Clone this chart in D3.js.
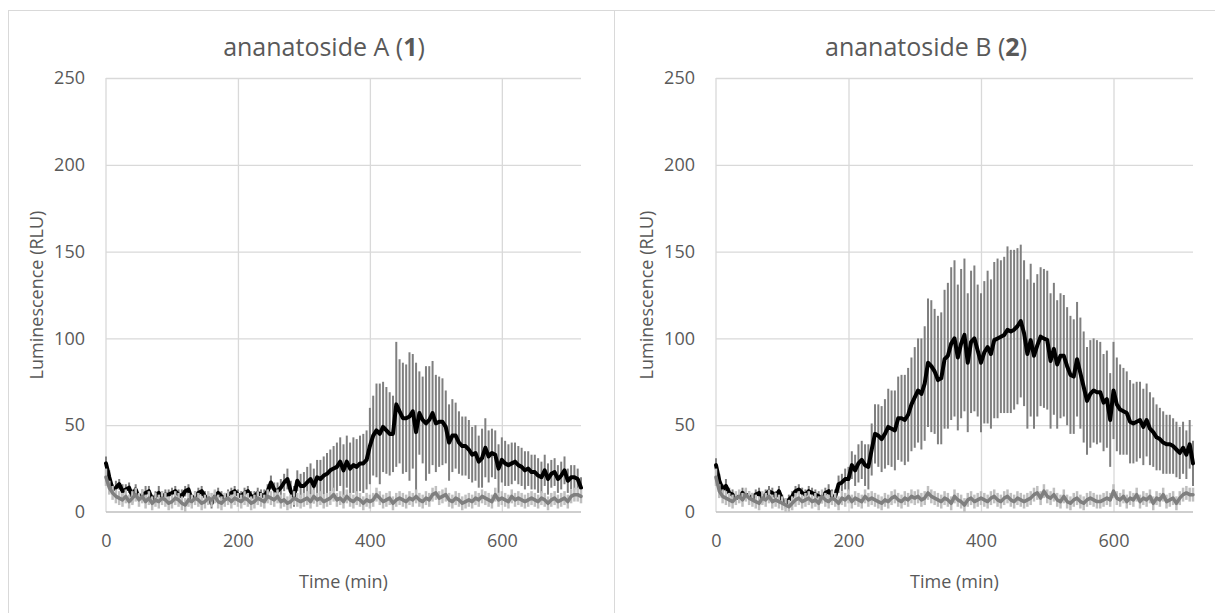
<!DOCTYPE html>
<html>
<head>
<meta charset="utf-8">
<script src="https://cdn.jsdelivr.net/npm/d3@7/dist/d3.min.js"></script>
<style>
  html, body { margin: 0; padding: 0; background: #ffffff; }
  svg { display: block; }
  text { font-family: "Open Sans", "Noto Sans", sans-serif; fill: #595959; }
</style>
</head>
<body>
<svg id="chart" width="1215" height="613"></svg>
<script>
// ---------------- DATA ----------------
const timeStepMin = 5;
const timeMax = 720;
const xTicks = [0, 200, 400, 600];
const yTicks = [0, 50, 100, 150, 200, 250];
const titleNames = ["ananatoside A (", "ananatoside B ("];
const titleNumbers = ["1", "2"];
const xAxisTitle = "Time (min)";
const yAxisTitle = "Luminescence (RLU)";

// ananatoside A (1) - treated (black) mean and error
const meanA = [
  28, 20, 13, 14, 16, 12, 13, 14, 9, 13,
  8, 10, 11, 12, 7, 9, 11, 9, 10, 10,
  11, 12, 10, 9, 12, 13, 7, 9, 11, 12,
  9, 8, 5, 9, 11, 9, 8, 10, 11, 12,
  10, 9, 11, 12, 9, 9, 11, 10, 9, 12,
  17, 13, 12, 14, 17, 19, 12, 9, 18, 15,
  15, 17, 19, 15, 20, 19, 21, 22, 24, 25,
  26, 29, 24, 29, 25, 27, 26, 28, 28, 30,
  38, 44, 47, 45, 49, 47, 45, 45, 62, 58,
  54, 54, 55, 58, 46, 57, 53, 51, 53, 57,
  51, 52, 52, 49, 40, 44, 44, 40, 38, 38,
  36, 33, 34, 29, 31, 37, 32, 34, 33, 25,
  30, 28, 27, 28, 29, 27, 26, 24, 25, 23,
  23, 21, 20, 24, 19, 22, 23, 19, 21, 24,
  18, 20, 20, 19, 14
];
const errA = [
  4, 4, 3, 4, 3, 4, 3, 3, 4, 3,
  3, 3, 4, 3, 3, 3, 4, 3, 3, 3,
  3, 3, 3, 4, 3, 3, 3, 3, 3, 3,
  3, 3, 3, 3, 3, 3, 3, 3, 3, 3,
  3, 3, 3, 3, 3, 3, 3, 3, 4, 4,
  4, 4, 5, 5, 5, 6, 6, 6, 6, 7,
  8, 9, 9, 10, 10, 11, 11, 12, 12, 13,
  14, 14, 15, 15, 15, 16, 16, 16, 17, 17,
  22, 23, 27, 29, 26, 25, 24, 22, 36, 30,
  32, 31, 37, 33, 40, 24, 25, 33, 31, 30,
  28, 26, 25, 21, 22, 21, 19, 18, 17, 17,
  17, 16, 16, 15, 17, 17, 15, 14, 14, 14,
  13, 13, 12, 12, 11, 11, 11, 11, 10, 10,
  10, 10, 9, 9, 9, 8, 8, 8, 8, 8,
  7, 7, 7, 6, 6
];
// ananatoside A (1) - control (gray) mean and error
const ctrlA = [
  20, 14, 11, 9, 8, 7, 9, 6, 8, 10,
  7, 9, 6, 8, 5, 7, 6, 8, 7, 5,
  6, 8, 7, 5, 4, 7, 6, 8, 7, 5,
  6, 8, 7, 9, 6, 5, 7, 8, 6, 8,
  7, 6, 8, 7, 5, 6, 8, 7, 6, 9,
  8, 7, 9, 6, 7, 5, 6, 8, 7, 6,
  7, 8, 6, 9, 7, 8, 6, 7, 8, 10,
  7, 8, 6, 9, 7, 6, 8, 7, 5, 7,
  6, 7, 10, 8, 6, 7, 8, 5, 7, 8,
  7, 6, 8, 7, 9, 7, 6, 8, 7, 10,
  11, 8, 9, 10, 7, 6, 8, 7, 5, 6,
  7, 6, 8, 7, 9, 8, 7, 6, 10, 7,
  8, 7, 6, 9, 7, 8, 7, 6, 7, 8,
  7, 6, 8, 7, 5, 7, 8, 6, 7, 8,
  6, 9, 10, 10, 9
];
const ctrlErrA = [
  5, 4, 4, 4, 4, 4, 4, 4, 4, 4,
  4, 4, 4, 4, 4, 4, 4, 4, 4, 4,
  4, 4, 4, 4, 4, 4, 4, 4, 4, 4,
  4, 4, 4, 4, 4, 4, 4, 4, 4, 4,
  4, 4, 4, 4, 4, 4, 4, 4, 4, 4,
  4, 4, 4, 4, 4, 4, 4, 4, 4, 4,
  4, 4, 4, 4, 4, 4, 4, 4, 4, 4,
  4, 4, 4, 4, 4, 4, 4, 4, 4, 4,
  4, 4, 4, 4, 4, 4, 4, 4, 4, 4,
  4, 4, 4, 4, 4, 4, 4, 4, 4, 4,
  4, 4, 4, 4, 4, 4, 4, 4, 4, 4,
  4, 4, 4, 4, 4, 4, 4, 4, 4, 4,
  4, 4, 4, 4, 4, 4, 4, 4, 4, 4,
  4, 4, 4, 4, 4, 4, 4, 4, 4, 4,
  4, 4, 4, 4, 4
];

// ananatoside B (2) - treated (black) mean and error
const meanB = [
  27, 18, 13, 15, 11, 10, 8, 9, 11, 10,
  9, 8, 10, 11, 8, 10, 12, 11, 9, 12,
  7, 5, 7, 9, 12, 13, 11, 10, 12, 11,
  10, 9, 8, 11, 12, 9, 9, 16, 17, 19,
  19, 27, 24, 28, 30, 27, 26, 36, 45, 44,
  42, 45, 49, 48, 47, 54, 54, 53, 56, 62,
  66, 70, 68, 74, 86, 84, 81, 76, 77, 88,
  90, 97, 100, 89, 97, 102, 86, 98, 100, 93,
  86, 92, 95, 91, 99, 100, 101, 102, 105, 104,
  105, 107, 110, 103, 91, 99, 90, 96, 101, 100,
  99, 87, 94, 85, 90, 90, 84, 79, 78, 88,
  80, 72, 64, 68, 70, 69, 69, 63, 65, 53,
  70, 62, 59, 58, 57, 52, 51, 52, 53, 49,
  53, 48, 46, 43, 42, 40, 39, 39, 38, 36,
  34, 37, 33, 39, 28
];
const errB = [
  4, 4, 3, 4, 3, 3, 3, 3, 3, 3,
  3, 3, 3, 3, 3, 3, 3, 3, 3, 3,
  3, 3, 3, 3, 3, 3, 3, 3, 3, 3,
  3, 3, 3, 3, 4, 4, 4, 5, 5, 6,
  7, 8, 9, 11, 11, 12, 13, 15, 17, 18,
  19, 20, 22, 22, 23, 24, 25, 26, 27, 27,
  29, 30, 32, 33, 37, 38, 36, 37, 38, 40,
  42, 44, 45, 42, 43, 44, 40, 41, 42, 38,
  40, 41, 44, 43, 45, 46, 44, 45, 48, 47,
  46, 45, 44, 42, 43, 44, 42, 41, 40, 40,
  40, 39, 38, 37, 36, 35, 34, 34, 33, 33,
  32, 32, 31, 31, 30, 30, 29, 28, 28, 27,
  28, 27, 26, 25, 24, 24, 23, 23, 22, 22,
  21, 21, 20, 19, 18, 18, 17, 17, 16, 16,
  15, 15, 14, 14, 13
];
// ananatoside B (2) - control (gray) mean and error
const ctrlB = [
  20, 12, 9, 8, 7, 6, 8, 9, 7, 10,
  8, 7, 6, 5, 8, 7, 9, 6, 7, 6,
  5, 4, 3, 5, 7, 8, 6, 7, 8, 6,
  7, 5, 9, 7, 6, 8, 7, 5, 8, 7,
  9, 6, 8, 7, 6, 9, 7, 8, 7, 6,
  5, 7, 6, 8, 9, 7, 6, 8, 7, 9,
  8, 9, 7, 8, 11, 9, 8, 7, 6, 8,
  7, 5, 9, 7, 6, 4, 7, 8, 6, 7,
  8, 7, 6, 8, 9, 7, 6, 8, 9, 7,
  6, 8, 7, 6, 7, 8, 10, 11, 8, 12,
  9, 8, 10, 7, 6, 9, 6, 5, 7, 8,
  6, 5, 7, 8, 7, 6, 6, 7, 8, 7,
  12, 8, 7, 9, 6, 8, 7, 10, 6, 8,
  7, 9, 5, 8, 7, 10, 6, 7, 8, 5,
  8, 10, 11, 10, 10
];
const ctrlErrB = [
  5, 4, 4, 4, 4, 4, 4, 4, 4, 4,
  4, 4, 4, 4, 4, 4, 4, 4, 4, 4,
  4, 4, 4, 4, 4, 4, 4, 4, 4, 4,
  4, 4, 4, 4, 4, 4, 4, 4, 4, 4,
  4, 4, 4, 4, 4, 4, 4, 4, 4, 4,
  4, 4, 4, 4, 4, 4, 4, 4, 4, 4,
  4, 4, 4, 4, 4, 4, 4, 4, 4, 4,
  4, 4, 4, 4, 4, 4, 4, 4, 4, 4,
  4, 4, 4, 4, 4, 4, 4, 4, 4, 4,
  4, 4, 4, 4, 4, 4, 4, 4, 4, 4,
  4, 4, 4, 4, 4, 4, 4, 4, 4, 4,
  4, 4, 4, 4, 4, 4, 4, 4, 4, 4,
  4, 4, 4, 4, 4, 4, 4, 4, 4, 4,
  4, 4, 4, 4, 4, 4, 4, 4, 4, 4,
  4, 4, 4, 4, 4
];

const times = d3.range(0, timeMax + 1, timeStepMin);

// ---------------- LAYOUT ----------------
const svg = d3.select("#chart");
const panels = [
  { frameX: 8, frameRight: 614, plotL: 106, plotR: 581, titleX: 324, yLabelX: 36,
    mean: meanA, err: errA, ctrl: ctrlA, ctrlErr: ctrlErrA, idx: 0 },
  { frameX: 614, frameRight: 1230, plotL: 716, plotR: 1193, titleX: 926, yLabelX: 646,
    mean: meanB, err: errB, ctrl: ctrlB, ctrlErr: ctrlErrB, idx: 1 }
];
const plotTop = 78, plotBottom = 512;
const tickFont = 18, axisTitleFont = 18, titleFont = 25;

svg.append("rect").attr("x", 0).attr("y", 0).attr("width", 1215).attr("height", 613).attr("fill", "#fff");

panels.forEach(p => {
  const g = svg.append("g");
  // frame
  g.append("rect")
    .attr("x", p.frameX + 0.5).attr("y", 10.5)
    .attr("width", p.frameRight - p.frameX).attr("height", 700)
    .attr("fill", "none").attr("stroke", "#d9d9d9").attr("stroke-width", 1);

  const x = d3.scaleLinear().domain([0, timeMax]).range([p.plotL, p.plotR]);
  const y = d3.scaleLinear().domain([0, 250]).range([plotBottom, plotTop]);

  // horizontal gridlines
  g.append("g")
    .attr("transform", `translate(${p.plotL},0)`)
    .call(d3.axisLeft(y).tickValues(yTicks.filter(v => v > 0)).tickSize(-(p.plotR - p.plotL)).tickFormat(""))
    .call(s => s.select(".domain").remove())
    .call(s => s.selectAll("line").attr("stroke", "#d9d9d9").attr("stroke-width", 1.3));
  // vertical gridlines
  g.append("g")
    .attr("transform", `translate(0,${plotBottom})`)
    .call(d3.axisBottom(x).tickValues(xTicks.filter(v => v > 0)).tickSize(-(plotBottom - plotTop)).tickFormat(""))
    .call(s => s.select(".domain").remove())
    .call(s => s.selectAll("line").attr("stroke", "#d9d9d9").attr("stroke-width", 1.3));

  // y axis line
  g.append("line").attr("x1", x(0)).attr("x2", x(0)).attr("y1", y(250)).attr("y2", y(0))
    .attr("stroke", "#d9d9d9").attr("stroke-width", 1.3);
  // x axis line
  g.append("line").attr("x1", x(0)).attr("x2", x(timeMax)).attr("y1", y(0)).attr("y2", y(0))
    .attr("stroke", "#bfbfbf").attr("stroke-width", 1.3);

  // y tick labels
  g.append("g")
    .attr("transform", `translate(${p.plotL},0)`)
    .call(d3.axisLeft(y).tickValues(yTicks).tickSize(0).tickPadding(21))
    .call(s => s.select(".domain").remove())
    .call(s => s.selectAll("text").attr("font-size", tickFont).attr("fill", "#595959")
      .style("font-family", '"Open Sans", sans-serif'));
  // x tick labels
  g.append("g")
    .attr("transform", `translate(0,${plotBottom})`)
    .call(d3.axisBottom(x).tickValues(xTicks).tickSize(0).tickPadding(22))
    .call(s => s.select(".domain").remove())
    .call(s => s.selectAll("text").attr("font-size", tickFont).attr("fill", "#595959")
      .style("font-family", '"Open Sans", sans-serif'));

  // series
  const blackPts = times.map((t, i) => ({ t, v: p.mean[i], e: p.err[i] }));
  const grayPts = times.map((t, i) => ({ t, v: p.ctrl[i], e: p.ctrlErr[i] }));
  const line = d3.line().x(d => x(d.t)).y(d => y(d.v));

  // black error bars
  g.append("g").selectAll("line").data(blackPts).join("line")
    .attr("x1", d => x(d.t)).attr("x2", d => x(d.t))
    .attr("y1", d => y(Math.min(250, d.v + d.e))).attr("y2", d => y(Math.max(0, d.v - d.e)))
    .attr("stroke", "#7f7f7f").attr("stroke-width", 2);
  g.append("path").datum(blackPts)
    .attr("d", line).attr("fill", "none").attr("stroke", "#000")
    .attr("stroke-width", 4).attr("stroke-linejoin", "round").attr("stroke-linecap", "round");

  // gray error bars
  g.append("g").selectAll("line").data(grayPts).join("line")
    .attr("x1", d => x(d.t)).attr("x2", d => x(d.t))
    .attr("y1", d => y(Math.min(250, d.v + d.e))).attr("y2", d => y(Math.max(0, d.v - d.e)))
    .attr("stroke", "#bfbfbf").attr("stroke-width", 2.5);
  g.append("path").datum(grayPts)
    .attr("d", line).attr("fill", "none").attr("stroke", "#7f7f7f")
    .attr("stroke-width", 3.5).attr("stroke-linejoin", "round").attr("stroke-linecap", "round");

  // title
  const title = g.append("text").attr("x", p.titleX).attr("y", 56)
    .attr("text-anchor", "middle").attr("font-size", titleFont).attr("fill", "#595959");
  title.append("tspan").text(titleNames[p.idx]);
  title.append("tspan").attr("font-weight", "bold").text(titleNumbers[p.idx]);
  title.append("tspan").text(")");

  // axis titles
  g.append("text").attr("x", (p.plotL + p.plotR) / 2).attr("y", 588)
    .attr("text-anchor", "middle").attr("font-size", axisTitleFont).text(xAxisTitle);
  g.append("text")
    .attr("transform", `translate(${p.yLabelX},${(plotTop + plotBottom) / 2}) rotate(-90)`)
    .attr("text-anchor", "middle").attr("dominant-baseline", "central").attr("font-size", axisTitleFont).text(yAxisTitle);
});
</script>
</body>
</html>
